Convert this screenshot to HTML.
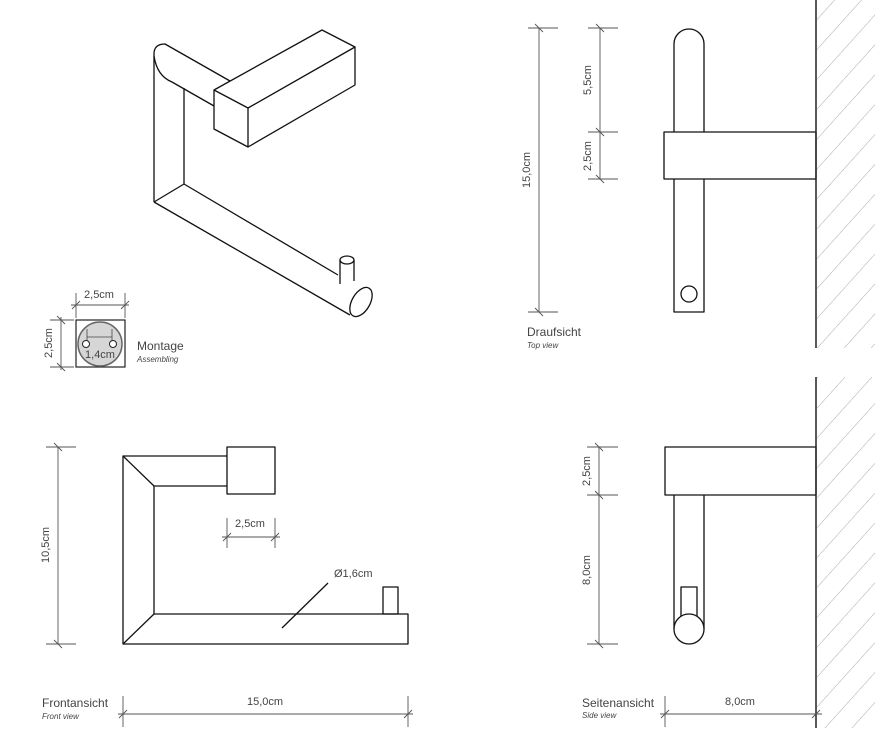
<!DOCTYPE html>
<html><head><meta charset="utf-8"><style>
html,body{margin:0;padding:0;background:#fff}
svg{display:block}
text{font-family:"Liberation Sans",sans-serif;fill:#444}
</style></head><body>
<svg width="880" height="751" viewBox="0 0 880 751" xmlns="http://www.w3.org/2000/svg">
<defs>
<pattern id="h" patternUnits="userSpaceOnUse" width="20" height="20" patternTransform="rotate(-48)">
<line x1="0" y1="0" x2="20" y2="0" stroke="#aaa" stroke-width="1"/>
</pattern>
</defs>
<g fill="none" stroke="#111" stroke-width="1.3" stroke-linejoin="round">
<!-- iso -->
<path d="M154,202 L154,54 Q154,44 165,44 L230,81"/>
<path d="M154,56 Q157,76 172,82 L214,106"/>
<line x1="184" y1="88" x2="184" y2="184"/>
<path d="M214,90 L248,108 L248,147 L214,129 Z"/>
<path d="M214,90 L322,30 L355,47 L248,108"/>
<path d="M355,47 L355,85 L248,147"/>
<path d="M154,202 L184,184 L338,275"/>
<line x1="154" y1="202" x2="350" y2="315"/>
<ellipse cx="361" cy="302" rx="9" ry="16" transform="rotate(30 361 302)"/>
<line x1="340" y1="260" x2="340" y2="284"/>
<line x1="354" y1="260" x2="354" y2="281"/>
<ellipse cx="347" cy="260" rx="7" ry="4"/>
<!-- top view -->
<path d="M674,312 L674,44 A15,15 0 0 1 704,44 L704,312 Z"/>
<rect x="664" y="132" width="152" height="47" fill="#fff"/>
<circle cx="689" cy="294" r="8"/>
<!-- side view -->
<rect x="665" y="447" width="151" height="48"/>
<line x1="674" y1="495" x2="674" y2="629"/>
<line x1="704" y1="495" x2="704" y2="629"/>
<rect x="681" y="587" width="16" height="30"/>
<circle cx="689" cy="629" r="15" fill="#fff"/>
<!-- front view -->
<path d="M227,456 L123,456 L123,644 L408,644 L408,614 L154,614 L154,486 L227,486"/>
<line x1="123" y1="456" x2="154" y2="486"/>
<line x1="123" y1="644" x2="154" y2="614"/>
<rect x="227" y="447" width="48" height="47"/>
<rect x="383" y="587" width="15" height="27"/>
<line x1="282" y1="628" x2="328" y2="583"/>
</g>
<!-- walls -->
<rect x="817" y="0" width="58" height="348" fill="url(#h)"/>
<rect x="817" y="377" width="58" height="351" fill="url(#h)"/>
<line x1="816" y1="0" x2="816" y2="348" stroke="#222" stroke-width="1.5"/>
<line x1="816" y1="377" x2="816" y2="728" stroke="#222" stroke-width="1.5"/>
<!-- dims -->
<g stroke="#555" stroke-width="0.9" fill="none">
<line x1="539" y1="28" x2="539" y2="312"/>
<line x1="528" y1="28" x2="558" y2="28"/><line x1="528" y1="312" x2="558" y2="312"/>
<line x1="535" y1="24" x2="543" y2="32"/><line x1="535" y1="308" x2="543" y2="316"/>
<line x1="600" y1="28" x2="600" y2="179"/>
<line x1="588" y1="28" x2="618" y2="28"/><line x1="588" y1="132" x2="618" y2="132"/><line x1="588" y1="179" x2="618" y2="179"/>
<line x1="596" y1="24" x2="604" y2="32"/><line x1="596" y1="128" x2="604" y2="136"/><line x1="596" y1="175" x2="604" y2="183"/>
<line x1="599" y1="447" x2="599" y2="644"/>
<line x1="587" y1="447" x2="618" y2="447"/><line x1="587" y1="495" x2="618" y2="495"/><line x1="587" y1="644" x2="618" y2="644"/>
<line x1="595" y1="443" x2="603" y2="451"/><line x1="595" y1="491" x2="603" y2="499"/><line x1="595" y1="640" x2="603" y2="648"/>
<line x1="660" y1="714" x2="822" y2="714"/>
<line x1="665" y1="696" x2="665" y2="727"/>
<line x1="661" y1="718" x2="669" y2="710"/><line x1="812" y1="718" x2="820" y2="710"/>
<line x1="58" y1="447" x2="58" y2="644"/>
<line x1="46" y1="447" x2="76" y2="447"/><line x1="46" y1="644" x2="76" y2="644"/>
<line x1="54" y1="443" x2="62" y2="451"/><line x1="54" y1="640" x2="62" y2="648"/>
<line x1="118" y1="714" x2="413" y2="714"/>
<line x1="123" y1="696" x2="123" y2="727"/><line x1="408" y1="696" x2="408" y2="727"/>
<line x1="119" y1="718" x2="127" y2="710"/><line x1="404" y1="718" x2="412" y2="710"/>
<line x1="222" y1="537" x2="280" y2="537"/>
<line x1="227" y1="518" x2="227" y2="548"/><line x1="275" y1="518" x2="275" y2="548"/>
<line x1="223" y1="541" x2="231" y2="533"/><line x1="271" y1="541" x2="279" y2="533"/>
<line x1="71" y1="305" x2="129" y2="305"/>
<line x1="76" y1="293" x2="76" y2="318"/><line x1="125" y1="293" x2="125" y2="318"/>
<line x1="72" y1="309" x2="80" y2="301"/><line x1="121" y1="309" x2="129" y2="301"/>
<line x1="61" y1="317" x2="61" y2="370"/>
<line x1="50" y1="320" x2="74" y2="320"/><line x1="50" y1="367" x2="74" y2="367"/>
<line x1="57" y1="316" x2="65" y2="324"/><line x1="57" y1="363" x2="65" y2="371"/>
</g>
<!-- montage -->
<rect x="76" y="320" width="49" height="47" fill="none" stroke="#222" stroke-width="1.2"/>
<circle cx="100" cy="344" r="22" fill="#d6d6d6" stroke="#666" stroke-width="1.5"/>
<g stroke="#444" stroke-width="0.8" fill="none"><line x1="87" y1="329" x2="87" y2="342"/><line x1="112" y1="329" x2="112" y2="342"/><line x1="87" y1="337" x2="112" y2="337"/></g>
<circle cx="86" cy="344" r="3.5" fill="#fff" stroke="#222"/>
<circle cx="113" cy="344" r="3.5" fill="#fff" stroke="#222"/>
<text x="100" y="358" font-size="11" text-anchor="middle" fill="#666">1,4cm</text>
<text x="99" y="298" font-size="11" text-anchor="middle">2,5cm</text>
<text transform="translate(52,343) rotate(-90)" font-size="11" text-anchor="middle">2,5cm</text>
<text x="137" y="350" font-size="12" fill="#333">Montage</text>
<text x="137" y="362" font-size="8" font-style="italic" fill="#777">Assembling</text>
<!-- labels -->
<text transform="translate(530,170) rotate(-90)" font-size="11" text-anchor="middle">15,0cm</text>
<text transform="translate(591,80) rotate(-90)" font-size="11" text-anchor="middle">5,5cm</text>
<text transform="translate(591,156) rotate(-90)" font-size="11" text-anchor="middle">2,5cm</text>
<text x="527" y="336" font-size="12" fill="#333">Draufsicht</text>
<text x="527" y="348" font-size="8" font-style="italic" fill="#777">Top view</text>
<text transform="translate(590,471) rotate(-90)" font-size="11" text-anchor="middle">2,5cm</text>
<text transform="translate(590,570) rotate(-90)" font-size="11" text-anchor="middle">8,0cm</text>
<text x="740" y="705" font-size="11" text-anchor="middle">8,0cm</text>
<text x="582" y="707" font-size="12" fill="#333">Seitenansicht</text>
<text x="582" y="718" font-size="8" font-style="italic" fill="#777">Side view</text>
<text transform="translate(49,545) rotate(-90)" font-size="11" text-anchor="middle">10,5cm</text>
<text x="265" y="705" font-size="11" text-anchor="middle">15,0cm</text>
<text x="250" y="527" font-size="11" text-anchor="middle">2,5cm</text>
<text x="334" y="577" font-size="11" fill="#222">Ø1,6cm</text>
<text x="42" y="707" font-size="12" fill="#333">Frontansicht</text>
<text x="42" y="719" font-size="8" font-style="italic" fill="#777">Front view</text>
</svg>
</body></html>
